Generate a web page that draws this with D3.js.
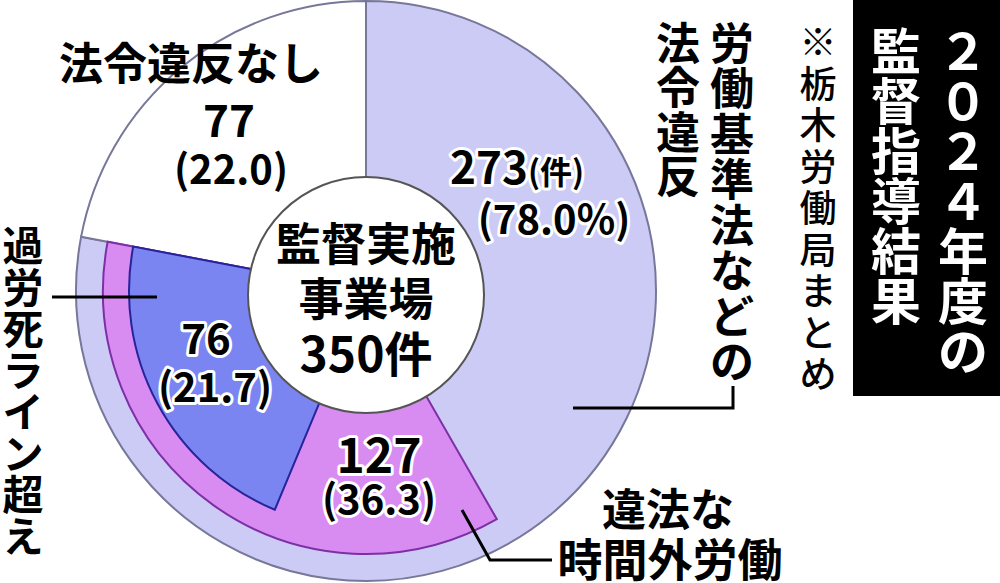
<!DOCTYPE html>
<meta charset="utf-8">
<style>
body { margin: 0; background: #fff; }
text { font-family: "Noto Sans CJK JP", sans-serif; font-weight: 700; }
.halo { stroke: #fff; stroke-width: 6; stroke-linejoin: round; paint-order: stroke; }
</style>
<svg width="1000" height="583" id="svg"></svg>
<script src="https://d3js.org/d3.v7.min.js"></script>
<script>

// data
var total = 350;
var categories = ["労働基準法などの法令違反", "法令違反なし"];
var counts = [273, 77];
var shares = ["78.0%", "22.0"];
var subCategories = ["違法な時間外労働", "過労死ライン超え"];
var subCounts = [127, 76];
var subShares = ["36.3", "21.7"];

var svg = d3.select("svg");

var cx = 366, cy = 291;
var R = 290, rOvertime = 263, rKaroshi = 237, rIn = 100;

var angle = d3.scaleLinear().domain([0, total]).range([0, 2 * Math.PI]);

var pie = d3.pie().sort(null).value(function(d) { return d; });
var arcs = pie(counts);

var g = svg.append("g").attr("transform", "translate(" + cx + "," + cy + ")");

var mainFill = ["#cbcbf6", "#ffffff"];
g.selectAll("path.main")
  .data(arcs)
  .enter().append("path")
    .attr("class", "main")
    .attr("d", d3.arc().innerRadius(rIn).outerRadius(R))
    .attr("fill", function(d, i) { return mainFill[i]; })
    .attr("stroke", "#77779a")
    .attr("stroke-width", 2);

// sub slices, both ending where the violation slice ends
var end = counts[0];
var subR = [rOvertime, rKaroshi];
var subFill = ["#d88cf2", "#7b85f1"];
var subStroke = ["#7d2fa6", "#26249a"];
g.selectAll("path.sub")
  .data(subCounts)
  .enter().append("path")
    .attr("class", "sub")
    .attr("d", function(d, i) {
      return d3.arc()({innerRadius: rIn, outerRadius: subR[i],
        startAngle: angle(end - d), endAngle: angle(end)});
    })
    .attr("fill", function(d, i) { return subFill[i]; })
    .attr("stroke", function(d, i) { return subStroke[i]; })
    .attr("stroke-width", 2);

// centre
svg.append("circle")
  .attr("cx", 366).attr("cy", 295).attr("r", 118)
  .attr("fill", "#fff").attr("stroke", "#555").attr("stroke-width", 2);

// leader lines
var leaders = ["M52,297H157", "M573,408H733V386", "M462,510L490,560H552"];
svg.selectAll("path.leader")
  .data(leaders)
  .enter().append("path")
    .attr("class", "leader")
    .attr("d", function(d) { return d; })
    .attr("fill", "none").attr("stroke", "#000").attr("stroke-width", 3);

function label(txt, x, y, size, cls) {
  return svg.append("text")
    .attr("class", cls || "")
    .attr("x", x).attr("y", y)
    .attr("text-anchor", "middle")
    .attr("font-size", size)
    .text(txt);
}

label(categories[1], 191, 80, 44);
label(counts[1], 229, 137, 44);
label("(" + shares[1] + ")", 231, 184, 40);

var t273 = svg.append("text").attr("class", "halo").attr("x", 450).attr("y", 184);
t273.append("tspan").attr("font-size", 44).text(counts[0]);
t273.append("tspan").attr("font-size", 32).text("(件)");
label("(" + shares[0] + ")", 554, 234, 40, "halo");

label("監督実施", 366, 261, 45);
label("事業場", 366, 316, 45);
label(total + "件", 366, 372, 48);

label(subCounts[1], 206, 354, 42, "halo");
label("(" + subShares[1] + ")", 215, 402, 40, "halo");
label(subCounts[0], 379, 473, 48, "halo");
label("(" + subShares[0] + ")", 379, 514, 40, "halo");

label(subCategories[0].slice(0, 3), 668, 526, 44);
label(subCategories[0].slice(3), 670, 577, 45);

// title box
svg.append("rect").attr("x", 853).attr("y", 0).attr("width", 147).attr("height", 396).attr("fill", "#000");

// vertical columns, one glyph per text
function column(str, x, top, step, size, weight, fill) {
  svg.append("g").selectAll("text")
    .data(Array.from(str))
    .enter().append("text")
      .attr("x", x)
      .attr("y", function(d, i) { return top + i * step + size * 0.84; })
      .attr("text-anchor", "middle")
      .attr("font-size", size)
      .style("font-weight", weight)
      .attr("fill", fill)
      .text(function(d) { return d; });
}

column("２０２４年度の", 963, 28, 50, 50, 700, "#fff");
column("監督指導結果", 896, 28, 50, 50, 700, "#fff");
column("※栃木労働局まとめ", 818, 25, 41.5, 37, 500, "#000");
column(categories[0].slice(0, 8), 732, 23, 45.5, 44, 700, "#000");
column(categories[0].slice(8), 678, 23, 44.5, 44, 700, "#000");
column(subCategories[1], 23, 227, 41.5, 41, 700, "#000");

</script>
